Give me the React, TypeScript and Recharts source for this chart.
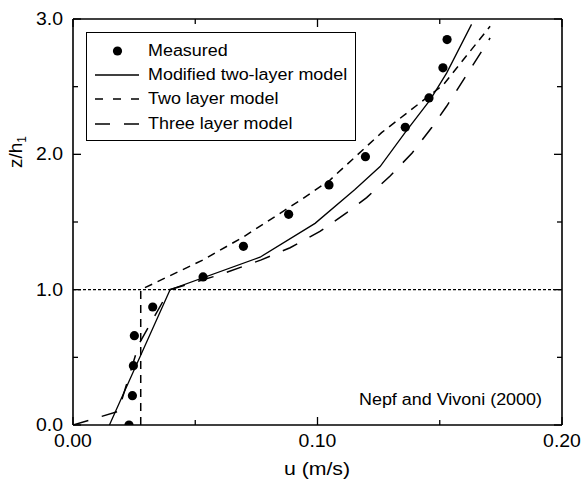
import React from 'react'
import { ComposedChart, Line, Scatter, XAxis, YAxis, ReferenceLine } from 'recharts'

const FONT = "'Liberation Sans', Arial, sans-serif"

// measured velocity profile (Nepf and Vivoni 2000)
const MEASURED_U = [0.0229, 0.0243, 0.0247, 0.0251, 0.0326, 0.0532, 0.0697, 0.0882, 0.1047, 0.1196, 0.1359, 0.1456, 0.1513, 0.153]
const MEASURED_Z = [0, 0.217, 0.438, 0.66, 0.872, 1.094, 1.32, 1.557, 1.774, 1.983, 2.2, 2.417, 2.639, 2.848]

// modified two-layer model
const MOD_U = [0.0149, 0.0397, 0.0765, 0.099, 0.1153, 0.1256, 0.1358, 0.146, 0.1528, 0.163]
const MOD_Z = [0, 1.0, 1.24, 1.49, 1.74, 1.91, 2.16, 2.4, 2.6, 2.96]

// two layer model
const TWO_U = [0.0277, 0.0277, 0.0532, 0.0697, 0.0929, 0.1051, 0.1262, 0.1419, 0.1515, 0.1706]
const TWO_Z = [0, 1.0, 1.22, 1.39, 1.66, 1.81, 2.16, 2.38, 2.515, 2.946]

// three layer model
const THREE_U = [0, 0.0185, 0.027, 0.0395, 0.06, 0.077, 0.0888, 0.101, 0.112, 0.1201, 0.1297, 0.1387, 0.1468, 0.1528, 0.1706]
const THREE_Z = [0, 0.1, 0.6, 1.0, 1.11, 1.22, 1.31, 1.43, 1.57, 1.68, 1.84, 2.01, 2.2, 2.355, 2.86]

const X_TICKS = [0, 0.05, 0.1, 0.15, 0.2]
const Y_TICKS = [0, 0.5, 1, 1.5, 2, 2.5, 3]

const toPoints = (us: number[], zs: number[]) => us.map((u, i) => ({ u, z: zs[i] }))

const measured = toPoints(MEASURED_U, MEASURED_Z)
const modified = toPoints(MOD_U, MOD_Z)
const twoLayer = toPoints(TWO_U, TWO_Z)
const threeLayer = toPoints(THREE_U, THREE_Z)

const AXIS = { stroke: '#000', strokeWidth: 1.6 }
const MAJOR = 8
const MINOR = 5

const isMajorX = (v: number) => Math.abs(v * 10 - Math.round(v * 10)) < 1e-6
const isMajorY = (v: number) => Math.abs(v - Math.round(v)) < 1e-6

function BottomTick({ x, y, payload }: any) {
  const v = payload.value as number
  const major = isMajorX(v)
  return (
    <g>
      <line x1={x} x2={x} y1={y} y2={y - (major ? MAJOR : MINOR)} stroke="#000" strokeWidth={1.3} />
      {major && (
        <text transform={`translate(${x},${y + 21.5}) scale(1.08,1)`} textAnchor="middle"
          fontSize={18} fontFamily={FONT} fill="#000">
          {v.toFixed(2)}
        </text>
      )}
    </g>
  )
}

function TopTick({ x, y, payload }: any) {
  const major = isMajorX(payload.value)
  return <line x1={x} x2={x} y1={y} y2={y + (major ? MAJOR : MINOR)} stroke="#000" strokeWidth={1.3} />
}

function LeftTick({ x, y, payload }: any) {
  const v = payload.value as number
  const major = isMajorY(v)
  return (
    <g>
      <line x1={x} x2={x + (major ? MAJOR : MINOR)} y1={y} y2={y} stroke="#000" strokeWidth={1.3} />
      {major && (
        <text transform={`translate(${x - 10},${y + 6}) scale(1.08,1)`} textAnchor="end"
          fontSize={18} fontFamily={FONT} fill="#000">
          {v.toFixed(1)}
        </text>
      )}
    </g>
  )
}

function RightTick({ x, y, payload }: any) {
  const major = isMajorY(payload.value)
  return <line x1={x} x2={x - (major ? MAJOR : MINOR)} y1={y} y2={y} stroke="#000" strokeWidth={1.3} />
}

function Dot({ cx, cy }: any) {
  return <circle cx={cx} cy={cy} r={4.6} fill="#000" />
}

function LegendBox() {
  const rows = [
    { label: 'Measured', kind: 'dot' },
    { label: 'Modified two-layer model', kind: 'solid' },
    { label: 'Two layer model', kind: 'short' },
    { label: 'Three layer model', kind: 'long' },
  ]
  return (
    <div style={{
      position: 'absolute', left: 86, top: 32, width: 270, height: 109,
      border: '1.5px solid #000', boxSizing: 'border-box', background: '#fff',
    }}>
      {rows.map((r, i) => (
        <div key={r.label} style={{ position: 'absolute', left: 0, top: 18 + i * 24.2 - 12, height: 24, width: '100%' }}>
          <svg width={54} height={24} style={{ position: 'absolute', left: 6, top: 0 }}>
            {r.kind === 'dot' && <circle cx={24.5} cy={12} r={4.6} fill="#000" />}
            {r.kind === 'solid' && <line x1={2} x2={46} y1={12} y2={12} stroke="#000" strokeWidth={1.3} />}
            {r.kind === 'short' && <line x1={2} x2={46} y1={12} y2={12} stroke="#000" strokeWidth={1.5} strokeDasharray="8 10" />}
            {r.kind === 'long' && <line x1={2} x2={46} y1={12} y2={12} stroke="#000" strokeWidth={1.5} strokeDasharray="15 14" />}
          </svg>
          <span style={{
            position: 'absolute', left: 61, top: 2, fontSize: 16, lineHeight: '20px', whiteSpace: 'nowrap',
            transform: 'scaleX(1.12)', transformOrigin: 'left center',
          }}>
            {r.label}
          </span>
        </div>
      ))}
    </div>
  )
}

export default function App() {
  return (
    <div style={{ position: 'relative', width: 583, height: 486, fontFamily: FONT, color: '#000', background: '#fff' }}>
      <style>{'body{margin:0}'}</style>
      <ComposedChart width={583} height={486} margin={{ top: 18, right: 20, bottom: 60, left: 72 }}>
        <XAxis type="number" dataKey="u" domain={[0, 0.2]} ticks={X_TICKS} interval={0}
          height={1} tickSize={0} tickMargin={0} tickLine={false} axisLine={AXIS}
          tick={(p: any) => <BottomTick {...p} />} allowDataOverflow />
        <XAxis xAxisId="top" orientation="top" type="number" dataKey="u" domain={[0, 0.2]} ticks={X_TICKS} interval={0}
          height={1} tickSize={0} tickMargin={0} tickLine={false} axisLine={AXIS}
          tick={(p: any) => <TopTick {...p} />} allowDataOverflow />
        <YAxis type="number" dataKey="z" domain={[0, 3]} ticks={Y_TICKS} interval={0}
          width={1} tickSize={0} tickMargin={0} tickLine={false} axisLine={AXIS}
          tick={(p: any) => <LeftTick {...p} />} allowDataOverflow />
        <YAxis yAxisId="right" orientation="right" type="number" dataKey="z" domain={[0, 3]} ticks={Y_TICKS} interval={0}
          width={1} tickSize={0} tickMargin={0} tickLine={false} axisLine={AXIS}
          tick={(p: any) => <RightTick {...p} />} allowDataOverflow />
        <ReferenceLine y={1} stroke="#000" strokeWidth={1.2} strokeDasharray="3 2" />
        <Line data={modified} dataKey="z" type="linear" stroke="#000" strokeWidth={1.3}
          dot={false} activeDot={false} isAnimationActive={false} />
        <Line data={twoLayer} dataKey="z" type="linear" stroke="#000" strokeWidth={1.5}
          strokeDasharray="8 6" dot={false} activeDot={false} isAnimationActive={false} />
        <Line data={threeLayer} dataKey="z" type="linear" stroke="#000" strokeWidth={1.5}
          strokeDasharray="16 14" dot={false} activeDot={false} isAnimationActive={false} />
        <Scatter data={measured} dataKey="z" shape={(p: any) => <Dot {...p} />} isAnimationActive={false} />
      </ComposedChart>

      <LegendBox />

      <div style={{
        position: 'absolute', left: 359, top: 390, fontSize: 16, lineHeight: '20px', whiteSpace: 'nowrap',
        transform: 'scaleX(1.12)', transformOrigin: 'left center',
      }}>
        Nepf and Vivoni (2000)
      </div>

      <div style={{
        position: 'absolute', left: 317, top: 469, fontSize: 19, lineHeight: '22px', whiteSpace: 'nowrap',
        transform: 'translate(-50%,-50%) scaleX(1.12)',
      }}>
        u (m/s)
      </div>

      <div style={{
        position: 'absolute', left: 19, top: 152, fontSize: 19, lineHeight: '22px', whiteSpace: 'nowrap',
        transform: 'translate(-50%,-50%) rotate(-90deg)',
      }}>
        z/h<sub style={{ fontSize: 12 }}>1</sub>
      </div>
    </div>
  )
}
